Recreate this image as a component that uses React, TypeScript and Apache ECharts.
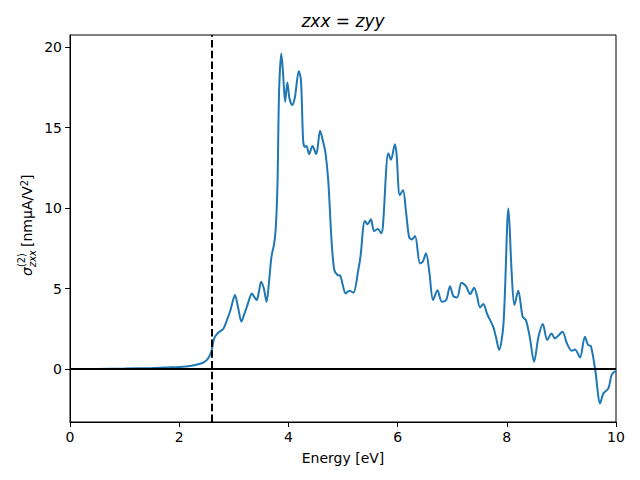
import React, { useEffect, useRef } from "react";
import * as echarts from "echarts";

const energy = [
  0, 0.5, 1.0, 1.5, 1.8, 2.0, 2.2, 2.35, 2.45, 2.53, 2.59, 2.64, 2.69, 2.75, 2.81, 2.87, 2.93, 2.98,
  3.02, 3.08, 3.14, 3.19, 3.24, 3.29, 3.33, 3.38, 3.42, 3.46, 3.5, 3.55, 3.6, 3.65, 3.69, 3.74, 3.77,
  3.8, 3.83, 3.87, 3.9, 3.94, 3.98, 4.02, 4.07, 4.12, 4.19, 4.23, 4.27, 4.3, 4.33, 4.38, 4.44, 4.51,
  4.58, 4.63, 4.68, 4.73, 4.79, 4.84, 4.9, 4.95, 4.99, 5.05, 5.12, 5.19, 5.28, 5.32, 5.4, 5.45, 5.51,
  5.57, 5.64, 5.7, 5.73, 5.83, 5.88, 5.95, 5.98, 6.04, 6.1, 6.15, 6.21, 6.26, 6.32, 6.41, 6.46, 6.52,
  6.58, 6.65, 6.73, 6.81, 6.89, 6.96, 7.02, 7.09, 7.17, 7.25, 7.33, 7.4, 7.45, 7.51, 7.57, 7.64, 7.75,
  7.8, 7.86, 7.94, 8.03, 8.09, 8.14, 8.21, 8.29, 8.35, 8.42, 8.5, 8.58, 8.66, 8.74, 8.82, 8.88, 8.95,
  9.02, 9.1, 9.19, 9.25, 9.34, 9.43, 9.49, 9.54, 9.62, 9.71, 9.77, 9.86, 9.92, 9.98, 10.0,
];

const sigma = [
  0.0, 0.01, 0.03, 0.06, 0.1, 0.13, 0.19, 0.3, 0.42, 0.66, 1.1, 1.9, 2.17, 2.35, 2.5, 3.0, 3.56, 4.2,
  4.6, 3.8, 2.94, 3.4, 3.87, 4.4, 4.7, 4.45, 4.29, 4.8, 5.42, 5.0, 4.18, 5.6, 6.98, 7.8, 8.84,
  11.5, 17.3, 19.6, 18.5, 16.6, 17.8, 16.8, 16.4, 16.9, 18.5, 17.95, 14.2, 13.8, 13.85, 13.35, 13.85, 13.35,
  14.8, 14.2, 13.4, 11.7, 8.0, 6.15, 5.84, 5.8, 5.3, 4.7, 4.87, 4.74, 6.15, 6.98, 9.2, 9.0, 9.3,
  8.57, 8.7, 8.43, 8.84, 13.4, 13.0, 13.97, 13.4, 10.8, 11.1, 9.9, 8.2, 8.05, 8.26, 6.56, 6.66, 7.19,
  6.05, 4.29, 4.9, 4.18, 4.29, 5.15, 4.53, 4.45, 5.36, 5.17, 4.66, 5.05, 4.6, 3.83, 4.04, 3.42, 2.63,
  2.0, 1.18, 2.84, 9.98, 5.94, 3.98, 4.87, 3.25, 3.04, 2.0, 0.45, 2.0, 2.8, 1.8, 2.2, 1.9, 2.1,
  2.32, 1.6, 1.14, 1.22, 0.72, 2.0, 1.49, 1.43, -0.06, -2.13, -1.51, -1.2, -0.37, -0.17, -0.2,
];

const yTicks = [0, 5, 10, 15, 20];
const gapEnergy = 2.6;
const titleText = "{i|zxx} = {i|zyy}";
const xName = "Energy [eV]";

const FONT = "DejaVu Sans";

export default function App() {
  const ref = useRef<HTMLDivElement>(null);
  useEffect(() => {
    if (!ref.current) return;
    const chart = echarts.init(ref.current, null, { renderer: "svg" });
    const main = 14;
    const small = 9.8;
    chart.setOption({
      animation: false,
      backgroundColor: "#fff",
      grid: {
        left: 70,
        right: 24,
        top: 35,
        bottom: 58,
        show: true,
        borderColor: "#000",
        borderWidth: 1,
        backgroundColor: "transparent",
      },
      xAxis: {
        type: "value",
        min: 0,
        max: 10,
        interval: 2,
        axisLine: { show: true, onZero: false, lineStyle: { color: "#000", width: 1 } },
        axisTick: { show: true, length: 5, lineStyle: { color: "#000", width: 1 } },
        axisLabel: { color: "#000", fontSize: main, fontFamily: FONT, margin: 8 },
        splitLine: { show: false },
        name: xName,
        nameLocation: "middle",
        nameGap: 29,
        nameTextStyle: { color: "#000", fontSize: main, fontFamily: FONT },
      },
      yAxis: {
        type: "value",
        min: -3.29,
        max: 20.75,
        axisLine: { show: true, onZero: false, lineStyle: { color: "#000", width: 1 } },
        axisTick: { show: true, length: 5, customValues: yTicks, lineStyle: { color: "#000", width: 1 } },
        axisLabel: { color: "#000", fontSize: main, fontFamily: FONT, margin: 8, customValues: yTicks },
        splitLine: { show: false },
      },
      graphic: [
        {
          type: "text",
          x: 343,
          y: 21,
          style: {
            text: titleText,
            textAlign: "center",
            textVerticalAlign: "middle",
            fontSize: 17,
            fontFamily: FONT,
            fill: "#000",
            rich: {
              i: { fontSize: 17, fontFamily: FONT, fontStyle: "italic", fill: "#000" },
            },
          },
        },
        {
          type: "group",
          x: 27,
          y: 230,
          rotation: Math.PI / 2,
          children: [
            {
              type: "text",
              x: -46,
              y: 0,
              style: {
                text: "σ",
                fontSize: main,
                fontFamily: FONT,
                fontStyle: "italic",
                fill: "#000",
                textAlign: "left",
                textVerticalAlign: "middle",
              },
            },
            {
              type: "text",
              x: -37,
              y: -6,
              style: {
                text: "(2)",
                fontSize: small,
                fontFamily: FONT,
                fill: "#000",
                textAlign: "left",
                textVerticalAlign: "middle",
              },
            },
            {
              type: "text",
              x: -37,
              y: 5,
              style: {
                text: "zxx",
                fontSize: small,
                fontFamily: FONT,
                fontStyle: "italic",
                fill: "#000",
                textAlign: "left",
                textVerticalAlign: "middle",
              },
            },
            {
              type: "text",
              x: -17,
              y: 0,
              style: {
                text: "[nmμA/V{s|2}]",
                fontSize: main,
                fontFamily: FONT,
                fill: "#000",
                textAlign: "left",
                textVerticalAlign: "middle",
                rich: {
                  s: { fontSize: small, fontFamily: FONT, fill: "#000", verticalAlign: "top", padding: [0, 0, 6, 0] },
                },
              },
            },
          ],
        },
      ],
      series: [
        {
          type: "line",
          data: energy.map((e, i) => [e, sigma[i]]),
          showSymbol: false,
          symbol: "none",
          smooth: 0.3,
          lineStyle: { color: "#1f77b4", width: 2 },
          z: 2,
        },
        {
          type: "line",
          data: [],
          z: 3,
          markLine: {
            silent: true,
            symbol: "none",
            label: { show: false },
            data: [
              { xAxis: gapEnergy, lineStyle: { color: "#000", width: 2, type: [7.5, 3.2] } },
              { yAxis: 0, lineStyle: { color: "#000", width: 2, type: "solid" } },
            ],
          },
        },
      ],
    });
    return () => chart.dispose();
  }, []);
  return <div ref={ref} style={{ width: 640, height: 480, position: "absolute", left: 0, top: 0 }} />;
}
